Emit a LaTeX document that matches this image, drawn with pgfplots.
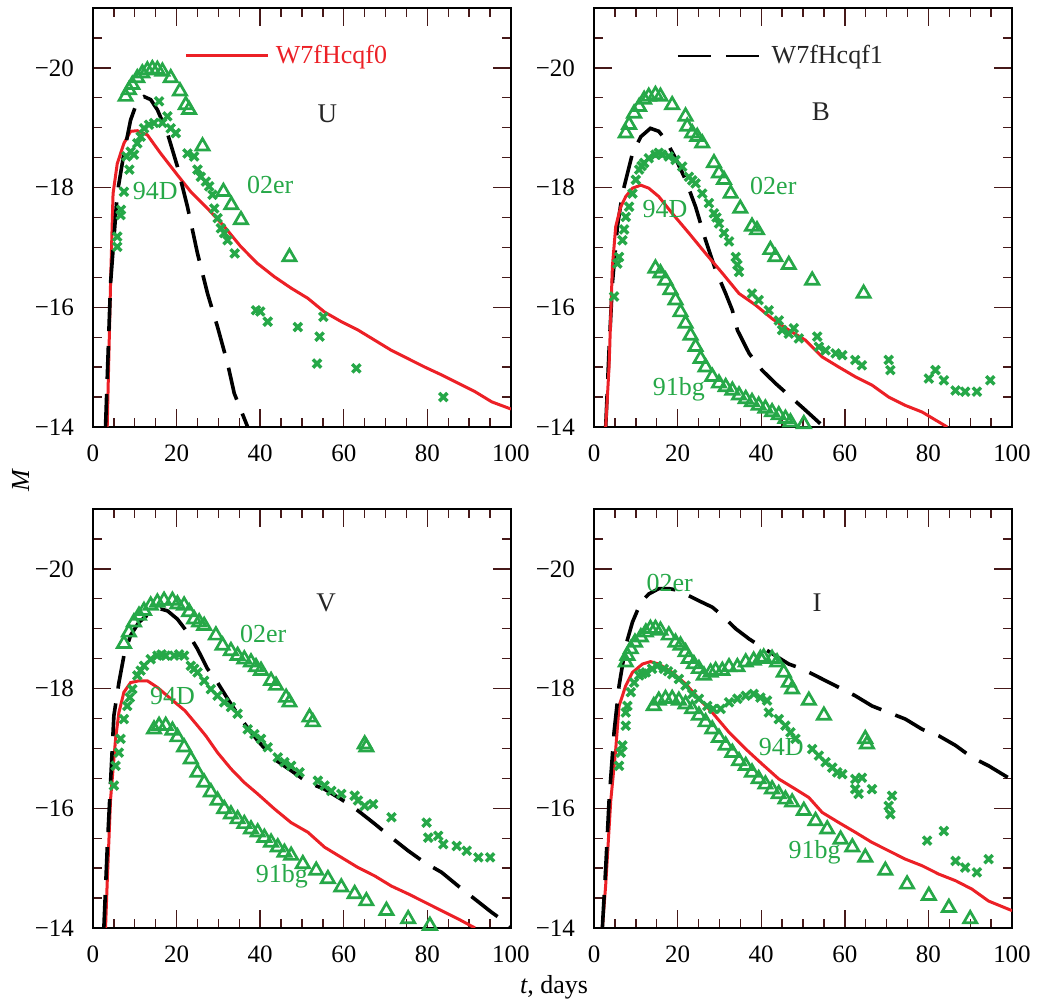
\documentclass[border=0pt]{standalone}
\usepackage{fontspec}
\setmainfont{Liberation Serif}
\usepackage{pgfplots}
\pgfplotsset{compat=1.18}

\definecolor{dgreen}{RGB}{38,168,72}
\definecolor{lred}{RGB}{236,32,38}
\definecolor{tickc}{RGB}{70,25,25}

\tikzset{
 lab/.style={font=\fontsize{13}{15}\selectfont, text=dgreen},
 band/.style={font=\fontsize{13.5}{15}\selectfont, text=black!85},
}
\pgfplotsset{
 panel/.style={
  scale only axis, width=209pt, height=209.5pt,
  xmin=0, xmax=100, ymin=-21, ymax=-14, y dir=reverse,
  xtick={0,20,40,60,80,100}, xticklabels={\mbox{0},\mbox{20},\mbox{40},\mbox{60},\mbox{80},\mbox{100}},
  minor xtick={5,10,15,25,30,35,45,50,55,65,70,75,85,90,95},
  ytick={-20,-18,-16,-14}, yticklabels={\mbox{−20},\mbox{−18},\mbox{−16},\mbox{−14}},
  minor ytick={-20.5,-19.5,-19,-18.5,-17.5,-17,-16.5,-15.5,-15,-14.5},
  major tick length=9pt, minor tick length=4.5pt,
  every tick/.style={tickc, line width=0.7pt},
  axis line style={line width=1pt},
  tick label style={font=\fontsize{12.5}{14}\selectfont},
  yticklabel style={xshift=-6pt},
  xticklabel style={yshift=-5.5pt},
  anchor=south west,
 },
 red model/.style={lred, line width=1.5pt},
 black model/.style={black, line width=1.8pt, dash pattern=on 16.5pt off 7.5pt},
 tri/.style={only marks, mark=triangle, mark size=3.8pt, dgreen, mark options={line width=1.35pt, solid}},
 cross/.style={only marks, mark=x, mark size=2.9pt, dgreen, mark options={line width=1.7pt, solid}},
}

\begin{document}
\begin{tikzpicture}
\path[use as bounding box] (0,0) rectangle (520.5pt,500.5pt);

% ---------------- U ----------------
\begin{axis}[panel, at={(46.5pt,287pt)},
  legend style={at={(0.219,0.887)}, anchor=west, draw=none, fill=none,
    font=\fontsize{13}{15}\selectfont, text=lred, inner sep=0pt},
  legend image code/.code={\draw[#1] (0pt,0pt) -- (41pt,0pt);}]
\addplot[red model] coordinates {(3.4,-14) (4.2,-16.4) (4.8,-17.9) (5.8,-18.4) (7.4,-18.74) (9,-18.94) (10.6,-18.95) (13,-18.88) (16.2,-18.57) (20.2,-18.21) (23.4,-17.93) (27.4,-17.65) (31.4,-17.35) (35.4,-17.01) (39.4,-16.73) (43.4,-16.51) (47.4,-16.32) (51.4,-16.15) (55.4,-15.92) (59.4,-15.76) (63.4,-15.62) (67.4,-15.45) (71.4,-15.28) (75.4,-15.14) (79.4,-15.0) (83.4,-14.87) (87.4,-14.73) (91.4,-14.59) (95.4,-14.42) (100,-14.3)};
\addlegendentry{\hspace{1pt}W7fHcqf0}
\addplot[black model] coordinates {(3,-14) (4.2,-16.4) (5.8,-17.9) (7.4,-18.57) (9,-19.13) (10.6,-19.44) (12.2,-19.52) (13.8,-19.47) (15.4,-19.3) (17.8,-18.91) (20.2,-18.35) (22.6,-17.68) (25,-16.9) (27.4,-16.23) (29.8,-15.67) (32.2,-15.06) (33.8,-14.56) (37,-14)};
\addplot[tri] coordinates {(7.8,-19.52) (8.6,-19.63) (9.4,-19.72) (10.6,-19.83) (11.8,-19.91) (13,-19.96) (14.2,-19.98) (15.4,-19.97) (16.6,-19.94) (18.6,-19.83) (20.8,-19.61) (22.2,-19.38) (23,-19.3) (26.2,-18.69) (31.2,-17.93) (33.1,-17.71) (35.4,-17.46) (47,-16.84)};
\addplot[cross] coordinates {(5.8,-17.01) (5.8,-17.18) (6.6,-17.54) (6.7,-17.63) (7.4,-17.93) (8.7,-18.3) (8,-18.52) (9,-18.6) (9.8,-18.55) (10.6,-18.74) (11.4,-18.85) (12.2,-18.99) (13.4,-19.05) (14.6,-19.08) (15.8,-19.44) (16.6,-19.08) (17.8,-19.19) (18.6,-18.99) (19.8,-18.91) (22.6,-18.57) (24.2,-18.52) (25,-18.3) (25.8,-18.18) (27,-18.1) (27.8,-18.02) (28.6,-17.88) (29,-17.65) (29.8,-17.49) (30.6,-17.32) (31.4,-17.24) (32.2,-17.12) (33.9,-16.9) (39,-15.95) (40,-15.93) (41.8,-15.76) (49,-15.67) (54.2,-15.51) (55.1,-15.84) (53.6,-15.06) (63,-14.98) (83.8,-14.5)};
\node[band] at (axis cs:56.1,-19.24) {U};
\node[lab] at (axis cs:14.9,-17.94) {94D};
\node[lab] at (axis cs:42.4,-18.04) {02er};
\end{axis}

% ---------------- B ----------------
\begin{axis}[panel, at={(297pt,287pt)},
  legend style={at={(0.197,0.886)}, anchor=west, draw=none, fill=none,
    font=\fontsize{13}{15}\selectfont, text=black!85, inner sep=0pt},
  legend image code/.code={\draw[#1, line width=1pt] (0pt,0pt) -- (40.5pt,0pt);}]
\addplot[black model] coordinates {(2.8,-14) (3.6,-15.28) (4.4,-16.4) (5.6,-17.35) (6.8,-17.9) (9.2,-18.57) (11.2,-18.85) (13.5,-18.99) (15.5,-18.94) (17.1,-18.8) (19.5,-18.49) (21.9,-18.13) (24.3,-17.68) (26.7,-17.12) (29.1,-16.62) (31.5,-16.23) (33.1,-15.95) (34.3,-15.62) (37.1,-15.23) (40.2,-14.95) (43.4,-14.73) (46.6,-14.53) (50.6,-14.28) (55,-14)};
\addlegendentry{\hspace{4pt}W7fHcqf1}
\addplot[red model] coordinates {(2.8,-14) (3.6,-15.0) (4.4,-16.68) (5.2,-17.35) (6.4,-17.68) (7.6,-17.85) (9.2,-17.99) (11.2,-18.04) (13.1,-17.99) (15.5,-17.85) (18.7,-17.57) (22.7,-17.24) (26.7,-16.9) (30.7,-16.57) (34.7,-16.23) (38.6,-16.04) (42.6,-15.81) (46.6,-15.62) (50.6,-15.45) (54.6,-15.17) (58.6,-15.0) (62.5,-14.84) (66.5,-14.7) (70.5,-14.5) (74.5,-14.36) (78.5,-14.25) (84.5,-14)};
\addplot[tri] coordinates {(7.6,-18.91) (8.4,-19.05) (9.6,-19.24) (10.8,-19.35) (12,-19.47) (13.1,-19.52) (14.7,-19.55) (15.9,-19.52) (18.7,-19.38) (21.9,-19.19) (22.3,-19.02) (23.5,-18.91) (24.7,-18.85) (25.9,-18.74) (28.7,-18.41) (29.9,-18.24) (31.1,-18.13) (32.7,-17.9) (35,-17.65) (37.8,-17.35) (39,-17.29) (42.2,-16.96) (43.4,-16.84) (46.6,-16.71) (52.2,-16.45) (64.5,-16.23)};
\addplot[cross] coordinates {(4.8,-16.18) (5.6,-16.73) (6,-16.84) (6.8,-17.12) (7.2,-17.3) (7.6,-17.51) (8.4,-17.68) (9.2,-17.9) (10,-18.13) (10.8,-18.3) (11.4,-18.36) (12,-18.41) (13.1,-18.49) (14.7,-18.55) (15.5,-18.58) (16.3,-18.55) (17.9,-18.52) (19.5,-18.46) (21.1,-18.35) (22.7,-18.18) (23.5,-18.12) (24.3,-18.07) (25.9,-17.9) (27.5,-17.74) (28.7,-17.57) (29.3,-17.5) (29.9,-17.4) (31.1,-17.24) (32.3,-17.1) (33.9,-16.84) (34.3,-16.71) (34.7,-16.59) (37.8,-16.23) (39.4,-16.12) (41.8,-15.95) (44.2,-15.78) (45,-15.62) (46.6,-15.56) (47.8,-15.65) (49,-15.48) (53.4,-15.51) (53.8,-15.34) (55.4,-15.28) (57.8,-15.23) (59.4,-15.2) (62.5,-15.12) (64.1,-15.03) (70.5,-15.12) (70.9,-14.95) (80.1,-14.81) (81.7,-14.95) (83.7,-14.78) (86.5,-14.61) (88.8,-14.59) (91.6,-14.59) (94.8,-14.78)};
\addplot[tri] coordinates {(14.7,-16.65) (15.9,-16.57) (17.1,-16.45) (18.3,-16.29) (19.5,-16.12) (20.7,-15.92) (21.9,-15.73) (23.1,-15.53) (24.3,-15.34) (25.5,-15.14) (26.7,-15.0) (28.3,-14.84) (29.9,-14.73) (31.5,-14.67) (33.1,-14.61) (34.7,-14.53) (36.3,-14.47) (37.8,-14.42) (39.4,-14.36) (41,-14.31) (42.6,-14.25) (44.2,-14.2) (45.8,-14.14) (47,-14.08) (50.2,-14.05)};
\node[band] at (axis cs:54.3,-19.26) {B};
\node[lab] at (axis cs:42.9,-18.03) {02er};
\node[lab] at (axis cs:17,-17.65) {94D};
\node[lab] at (axis cs:20.3,-14.63) {91bg};
\end{axis}

% ---------------- V ----------------
\begin{axis}[panel, at={(46.5pt,36.5pt)}]
\addplot[red model] coordinates {(3,-14) (3.4,-14.76) (4.2,-16.15) (5.4,-17.16) (6.2,-17.6) (7.4,-17.94) (9,-18.1) (11,-18.13) (13,-18.13) (15.4,-18.02) (18.6,-17.83) (22,-17.63) (25,-17.38) (27,-17.21) (29.8,-16.93) (33,-16.66) (36.2,-16.43) (39.4,-16.24) (43.4,-15.99) (47.4,-15.76) (51.4,-15.6) (55.4,-15.35) (59.4,-15.18) (63.4,-15.01) (67.4,-14.87) (71.4,-14.7) (75.4,-14.57) (79.4,-14.43) (83.4,-14.29) (87.4,-14.15) (91.4,-14.0)};
\addplot[black model] coordinates {(2.6,-14) (3.4,-15.32) (4.2,-16.43) (5,-17.55) (6.2,-18.1) (7.4,-18.55) (9,-18.89) (11,-19.11) (13.4,-19.25) (16.2,-19.33) (17.8,-19.3) (20.2,-19.16) (22.6,-18.94) (25,-18.66) (27.4,-18.33) (29.8,-18.1) (32.2,-17.83) (35.4,-17.49) (39.4,-17.13) (43.4,-16.82) (47.4,-16.63) (51.4,-16.43) (55.4,-16.32) (59.4,-16.15) (63.4,-15.96) (67.4,-15.74) (71.4,-15.51) (75.4,-15.29) (79.4,-15.09) (83.4,-14.93) (87.4,-14.7) (91.4,-14.48) (95.4,-14.26) (99.4,-14.06) (100,-14.02)};
\addplot[tri] coordinates {(7.4,-18.75) (8.6,-18.94) (9.8,-19.11) (11,-19.22) (12.2,-19.3) (13.8,-19.39) (15.4,-19.44) (17,-19.47) (19,-19.47) (20.2,-19.41) (21.8,-19.39) (23,-19.28) (24.2,-19.16) (25.4,-19.11) (26.6,-19.05) (29.4,-18.89) (31,-18.72) (33,-18.63) (34.6,-18.55) (36.2,-18.49) (37.8,-18.44) (39,-18.36) (40.2,-18.3) (42.6,-18.13) (43.8,-18.05) (46.2,-17.85) (47,-17.77) (51.8,-17.52) (52.6,-17.44) (65,-17.07) (65.4,-17.02)};
\addplot[cross] coordinates {(5,-16.38) (5.4,-16.71) (6.2,-16.93) (6.6,-17.16) (7.4,-17.49) (8.2,-17.71) (8.8,-17.85) (9.4,-17.99) (10.6,-18.22) (11.4,-18.3) (12.2,-18.38) (13.8,-18.49) (15.4,-18.55) (16.4,-18.57) (17.4,-18.55) (19.4,-18.55) (20.6,-18.57) (21.8,-18.55) (23.4,-18.38) (24.2,-18.33) (25,-18.27) (26.6,-18.13) (28.2,-17.99) (29.8,-17.88) (31.4,-17.77) (33,-17.69) (34.6,-17.58) (37,-17.32) (38.6,-17.24) (40.2,-17.16) (41.8,-17.02) (44.2,-16.85) (45.8,-16.77) (47.4,-16.71) (49.4,-16.6) (53.8,-16.46) (55.4,-16.38) (57,-16.29) (59.4,-16.24) (62.6,-16.21) (63.4,-16.13) (65,-16.04) (67,-16.07) (71.4,-15.85) (79.8,-15.76) (80.2,-15.51) (82.6,-15.54) (83.8,-15.4) (87,-15.37) (89.4,-15.29) (92.2,-15.18) (95,-15.18)};
\addplot[tri] coordinates {(14.6,-17.32) (15.8,-17.38) (17.4,-17.38) (19,-17.3) (20.2,-17.19) (21.8,-17.02) (23.4,-16.82) (25,-16.6) (26.6,-16.43) (28.2,-16.27) (29.8,-16.13) (31.4,-15.99) (33,-15.9) (34.6,-15.82) (36.2,-15.74) (37.8,-15.65) (39.4,-15.6) (41,-15.51) (42.6,-15.43) (44.2,-15.35) (45.8,-15.26) (47.4,-15.21) (50.2,-15.07) (53.4,-14.96) (56.2,-14.82) (59.4,-14.68) (62.6,-14.57) (65.4,-14.45) (70.2,-14.29) (75.4,-14.15) (80.6,-14.04)};
\node[band] at (axis cs:55.8,-19.44) {V};
\node[lab] at (axis cs:40.7,-18.91) {02er};
\node[lab] at (axis cs:19,-17.88) {94D};
\node[lab] at (axis cs:45.2,-14.86) {91bg};
\end{axis}

% ---------------- I ----------------
\begin{axis}[panel, at={(297pt,36.5pt)}]
\addplot[red model] coordinates {(2,-14) (2.8,-14.72) (4,-16.12) (5.2,-16.99) (6,-17.71) (7.6,-18.05) (9.2,-18.27) (11.6,-18.41) (13.5,-18.45) (15.5,-18.41) (18.7,-18.27) (21.9,-18.08) (25.1,-17.83) (28.3,-17.6) (32.3,-17.27) (36.3,-16.99) (40.2,-16.74) (44.2,-16.49) (48.2,-16.32) (51.4,-16.18) (54.6,-15.93) (58.6,-15.76) (62.5,-15.6) (66.5,-15.43) (70.5,-15.29) (74.5,-15.15) (78.5,-15.04) (82.5,-14.9) (86.5,-14.79) (90.4,-14.65) (94.4,-14.45) (100,-14.29)};
\addplot[black model] coordinates {(2,-14) (2.8,-15.0) (3.6,-16.12) (4.8,-17.27) (6,-18.05) (7.6,-18.72) (9.2,-19.11) (11.2,-19.44) (13.1,-19.58) (15.5,-19.67) (17.9,-19.67) (20.3,-19.64) (22.7,-19.55) (25.9,-19.44) (28.3,-19.36) (30.7,-19.22) (33.9,-19.0) (37.1,-18.83) (40.2,-18.69) (43.4,-18.55) (46.6,-18.41) (49.8,-18.33) (54.6,-18.16) (59.4,-17.99) (62.5,-17.88) (66.5,-17.71) (70.5,-17.6) (74.5,-17.49) (78.5,-17.32) (82.5,-17.21) (86.5,-17.05) (90.4,-16.85) (94.4,-16.71) (99.6,-16.49) (100,-16.47)};
\addplot[tri] coordinates {(7.6,-18.44) (8,-18.55) (8.8,-18.66) (9.8,-18.77) (11.2,-18.86) (12.4,-18.94) (13.5,-19.0) (14.7,-19.0) (15.9,-18.97) (17.9,-18.89) (19.5,-18.77) (20.7,-18.72) (21.9,-18.61) (22.7,-18.5) (23.9,-18.41) (25.1,-18.33) (26.3,-18.22) (27.9,-18.27) (29.1,-18.3) (30.7,-18.3) (32.3,-18.36) (34.3,-18.36) (36.3,-18.44) (38.2,-18.47) (39.8,-18.5) (40.6,-18.52) (42.6,-18.5) (43.8,-18.44) (45.4,-18.27) (46.6,-18.1) (47.4,-17.99) (51.4,-17.8) (55,-17.55) (64.9,-17.16) (65.3,-17.07)};
\addplot[cross] coordinates {(6,-16.71) (6.4,-16.93) (6.8,-17.05) (7.6,-17.38) (7.6,-17.6) (8,-17.71) (8.8,-17.94) (9.6,-18.1) (10.8,-18.22) (11.6,-18.25) (12.4,-18.27) (13.9,-18.33) (15.1,-18.38) (16.7,-18.33) (17.7,-18.29) (18.7,-18.24) (20.3,-18.16) (21.9,-18.05) (23.5,-17.91) (25.1,-17.83) (27.1,-17.71) (28.5,-17.66) (30.3,-17.66) (32.3,-17.77) (34.3,-17.83) (36.3,-17.88) (38.2,-17.91) (39.8,-17.85) (41.4,-17.8) (41.8,-17.6) (44.2,-17.49) (45.8,-17.38) (47,-17.27) (48.2,-17.16) (52.2,-16.99) (53.8,-16.88) (55.4,-16.77) (57,-16.68) (58.2,-16.6) (59.4,-16.57) (62.5,-16.49) (64.1,-16.51) (62.5,-16.32) (63.3,-16.24) (66.5,-16.32) (71.3,-16.21) (70.5,-16.04) (70.9,-15.9) (79.7,-15.46) (83.7,-15.62) (86.5,-15.12) (88.8,-15.01) (91.6,-14.93) (94.4,-15.15)};
\addplot[tri] coordinates {(14.3,-17.71) (15.5,-17.8) (17.1,-17.83) (18.7,-17.83) (20.3,-17.8) (21.9,-17.74) (23.5,-17.66) (25.1,-17.55) (26.7,-17.44) (28.3,-17.32) (29.9,-17.18) (31.5,-17.05) (33.1,-16.93) (34.7,-16.79) (36.3,-16.71) (37.8,-16.6) (39.4,-16.49) (41,-16.4) (42.6,-16.32) (44.2,-16.24) (45.8,-16.15) (47.4,-16.1) (50.2,-15.96) (53,-15.79) (55.8,-15.65) (59,-15.48) (61.8,-15.35) (64.9,-15.18) (69.7,-14.96) (74.9,-14.73) (80.1,-14.54) (84.9,-14.34) (90,-14.15)};
\node[band] at (axis cs:53.4,-19.44) {I};
\node[lab] at (axis cs:18.1,-19.77) {02er};
\node[lab] at (axis cs:44.8,-17.03) {94D};
\node[lab] at (axis cs:52.8,-15.26) {91bg};
\end{axis}

\node[font=\fontsize{13}{15}\selectfont, rotate=90] at (10.35pt,260.5pt) {\textit{M}};
\node[font=\fontsize{13}{15}\selectfont] at (277pt,7pt) {\textit{t}, days};
\end{tikzpicture}
\end{document}
